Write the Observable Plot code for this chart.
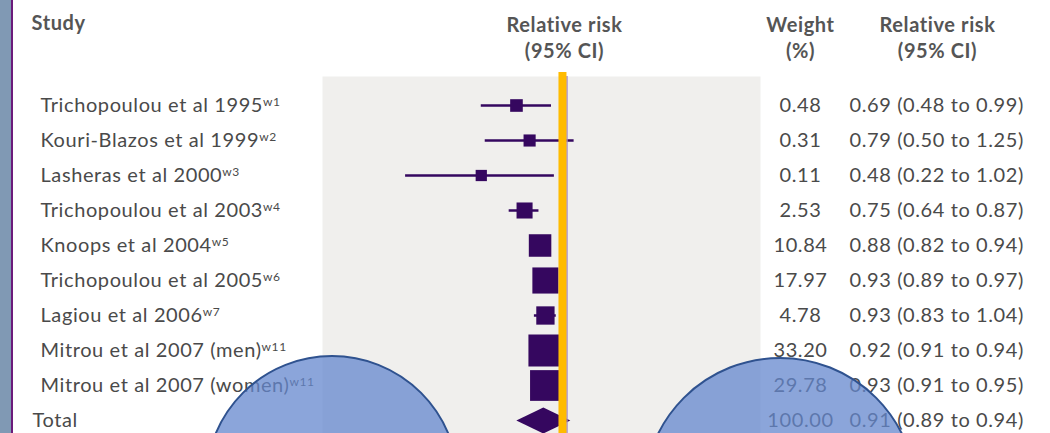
<!DOCTYPE html>
<html><head><meta charset="utf-8">
<script src="https://cdn.jsdelivr.net/npm/d3@7"></script>
<script src="https://cdn.jsdelivr.net/npm/@observablehq/plot@0.6"></script>
<style>
html,body{margin:0;padding:0;background:#fff;}
#wrap{position:relative;width:1050px;height:433px;overflow:hidden;}
#chart{position:absolute;left:0;top:0;}
#strip{position:absolute;left:0;top:0;width:11px;height:433px;background:#8099b4;border-right:2.5px solid #6b1b7b;}
.blob{position:absolute;border-radius:50%;background:rgba(100,135,205,0.75);border:2px solid #2f528f;box-sizing:border-box;}
</style></head><body>
<div id="wrap"><div id="chart"></div><div id="strip"></div>
<div class="blob" style="left:205px;top:355px;width:254px;height:254px"></div>
<div class="blob" style="left:643px;top:357px;width:274px;height:274px"></div>
</div>
<script>
// ---- data ----
const studies = ["Trichopoulou et al 1995","Kouri-Blazos et al 1999","Lasheras et al 2000","Trichopoulou et al 2003","Knoops et al 2004","Trichopoulou et al 2005","Lagiou et al 2006","Mitrou et al 2007 (men)","Mitrou et al 2007 (women)"];
const refs = ["w1","w2","w3","w4","w5","w6","w7","w11","w11"];
const weights = [0.48,0.31,0.11,2.53,10.84,17.97,4.78,33.20,29.78];
const rr = [0.69,0.79,0.48,0.75,0.88,0.93,0.93,0.92,0.93];
const lower = [0.48,0.50,0.22,0.64,0.82,0.89,0.83,0.91,0.91];
const upper = [0.99,1.25,1.02,0.87,0.94,0.97,1.04,0.94,0.95];
const totalLabel = "Total";
const totalWeight = 100;
const totalRR = 0.91, totalLower = 0.89, totalUpper = 0.94;
const headStudy = ["Study"];
const headRR = ["Relative risk\n(95% CI)"];
const headWeight = ["Weight\n(%)"];
const nullValue = [1];

const rows = studies.map((s,i)=>({study:s, sup:refs[i], w:weights[i], rr:rr[i], lo:lower[i], hi:upper[i]}));
const total = {study:totalLabel, w:totalWeight, rr:totalRR, lo:totalLower, hi:totalUpper};
const all = [...rows, total];
const fmt = v => v.toFixed(2);

const purple = "#35075f";
const txt = "#4a4a4a";
const hdr = "#555555";

const wideDiamond = {draw(ctx){ctx.moveTo(-27,0);ctx.lineTo(0,-13);ctx.lineTo(27,0);ctx.lineTo(0,13);ctx.closePath();}};

const chart = Plot.plot({
  width:1050, height:433,
  marginLeft:322, marginRight:290, marginTop:104, marginBottom:12,
  style:{fontFamily:"Lato, sans-serif", fontSize:"20px", letterSpacing:"0.6px", background:"transparent", overflow:"visible"},
  x:{type:"log", domain:[0.0934, 8.54], axis:null},
  y:{type:"point", domain:all.map(d=>d.study), padding:0, axis:null},
  r:{type:"sqrt", domain:[0,33.2], range:[5.64,18]},
  marks:[
    Plot.frame({fill:"#f0efed", stroke:"none", insetTop:-28, insetBottom:-12}),
    Plot.ruleY(rows,{y:"study", x1:"lo", x2:"hi", stroke:purple, strokeWidth:2.5}),
    Plot.dot(rows,{x:"rr", y:"study", r:"w", symbol:"square", fill:purple}),
    Plot.dot([total],{x:"rr", y:"study", r:10, symbol:wideDiamond, fill:purple}),
    Plot.ruleX(nullValue,{stroke:"#a48bc9", strokeWidth:1.5, dx:14.5, insetTop:-28, insetBottom:-12}),
    Plot.ruleX(nullValue,{stroke:"#ffbb00", strokeWidth:8, dx:10, insetTop:-32, insetBottom:-12}),
    Plot.text(rows,{y:"study", text:"study", frameAnchor:"left", textAnchor:"start", dx:-282, fill:txt}),
    Plot.text([total],{y:"study", text:"study", frameAnchor:"left", textAnchor:"start", dx:-290, fill:txt}),
    Plot.text(all,{y:"study", text:d=>fmt(d.w), frameAnchor:"right", textAnchor:"middle", dx:40, fill:txt}),
    Plot.text(all,{y:"study", text:d=>`${fmt(d.rr)} (${fmt(d.lo)} to ${fmt(d.hi)})`, frameAnchor:"right", textAnchor:"start", dx:89, fill:txt}),
    Plot.text(headStudy,{text:d=>d, frameAnchor:"top-left", textAnchor:"start", lineAnchor:"middle", dx:-291, dy:-81, fontWeight:"bold", fontSize:20, fill:hdr}),
    Plot.text(headRR,{text:d=>d, frameAnchor:"top", textAnchor:"middle", lineAnchor:"middle", dx:23, dy:-68, lineHeight:1.3, fontWeight:"bold", fontSize:20, fill:hdr}),
    Plot.text(headWeight,{text:d=>d, frameAnchor:"top-right", textAnchor:"middle", lineAnchor:"middle", dx:40, dy:-68, lineHeight:1.3, fontWeight:"bold", fontSize:20, fill:hdr}),
    Plot.text(headRR,{text:d=>d, frameAnchor:"top-right", textAnchor:"middle", lineAnchor:"middle", dx:177, dy:-68, lineHeight:1.3, fontWeight:"bold", fontSize:20, fill:hdr})
  ]
});

// superscript reference markers
const supByStudy = new Map(rows.map(d=>[d.study,d.sup]));
d3.select(chart).selectAll("text").each(function(){
  const t = this.textContent;
  if (supByStudy.has(t) && this.childElementCount === 0) {
    d3.select(this).append("tspan").attr("dy","-6").attr("font-size","12").text(supByStudy.get(t));
  }
});
document.getElementById("chart").appendChild(chart);
</script>
</body></html>
